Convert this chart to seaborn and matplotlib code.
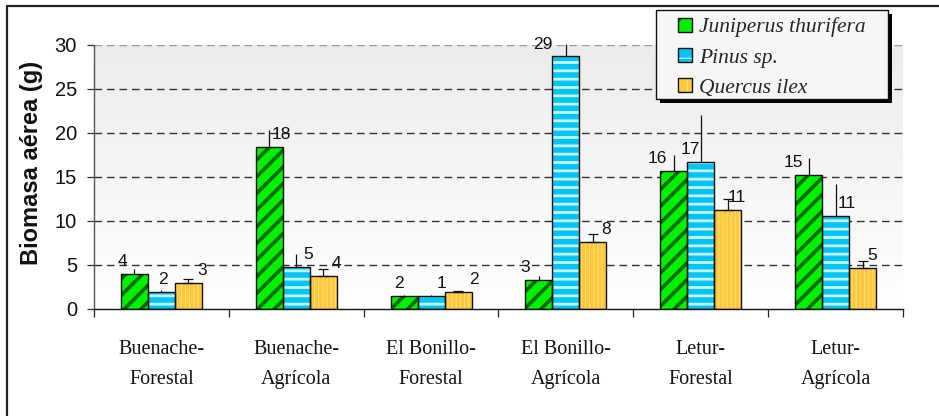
import numpy as np
import pandas as pd
import matplotlib
matplotlib.use("Agg")
import matplotlib.pyplot as plt
import seaborn as sns
from matplotlib.patches import Patch, Rectangle
from matplotlib.lines import Line2D
from matplotlib.colors import LinearSegmentedColormap

# ---- data -------------------------------------------------------------
sites = ["Buenache-\nForestal", "Buenache-\nAgrícola", "El Bonillo-\nForestal",
         "El Bonillo-\nAgrícola", "Letur-\nForestal", "Letur-\nAgrícola"]
species = ["Juniperus thurifera", "Pinus sp.", "Quercus ilex"]

juniperus = [3.95, 18.4, 1.5, 3.3, 15.7, 15.2]
pinus = [1.95, 4.8, 1.45, 28.7, 16.7, 10.55]
quercus = [3.0, 3.8, 1.95, 7.6, 11.3, 4.7]

err_juniperus = [0.55, 1.9, 0.1, 0.5, 1.8, 2.0]
err_pinus = [0.2, 1.4, 0.1, 1.4, 5.3, 3.6]
err_quercus = [0.45, 0.7, 0.15, 0.9, 1.25, 0.7]

yticks = [0, 5, 10, 15, 20, 25, 30]

# ---- styling ------------------------------------------------------------
fill_colors = ["#00f000", "#00c4f4", "#ffc83a"]
hatch_colors = ["#006a00", "#c6f4ff", "#ffe07a"]
hatches = ["//", "--", "||||"]
hatch_widths = [2.6, 2.0, 0.7]
cap_sizes = [0, 0, 3.3]
# horizontal shift of each value label, in bar widths
label_shift = [
    [-0.45, 0.45, -0.2, -0.5, -0.6, -0.55],
    [0.05, 0.45, 0.4, -0.85, -0.4, 0.4],
    [0.5, 0.5, 0.6, 0.5, 0.35, 0.35],
]

sns.set_theme(style="white")
plt.rcParams["font.family"] = ["Liberation Sans", "DejaVu Sans"]

values = [juniperus, pinus, quercus]
errors = [err_juniperus, err_pinus, err_quercus]

df = pd.DataFrame({
    "site": [s for _ in species for s in sites],
    "especie": [sp for sp in species for _ in sites],
    "biomasa": [v for vals in values for v in vals],
})

W, H = 939, 416
fig = plt.figure(figsize=(W / 100, H / 100), dpi=100)
fig.patch.set_facecolor("white")
ax = fig.add_axes([94 / W, 1 - 309 / H, (903 - 94) / W, (309 - 45) / H])

sns.barplot(data=df, x="site", y="biomasa", hue="especie", order=sites,
            hue_order=species, palette=fill_colors, errorbar=None,
            width=0.6, gap=0, legend=False, ax=ax, zorder=2)
bar_groups = list(ax.containers)

ax.set_xlim(-0.5, len(sites) - 0.5)
ax.set_ylim(0, 30)

# plot-area background: light grey fading to white
grad = LinearSegmentedColormap.from_list("bg", ["#ffffff", "#ececec"])
ax.imshow(np.linspace(0, 1, 256).reshape(-1, 1), extent=[-0.5, len(sites) - 0.5, 0, 30],
          origin="lower", aspect="auto", cmap=grad, zorder=0)

# dashed grid
for t in yticks[1:]:
    ax.axhline(t, color="#9a9a9a" if t == 30 else "#333333", lw=1.0,
               dashes=(5.5, 3.5), zorder=1)

# bars: hatched fill + black outline, error bars, value labels
for k, cont in enumerate(bar_groups):
    for j, p in enumerate(cont.patches):
        p.set_facecolor(fill_colors[k])
        p.set_edgecolor(hatch_colors[k])
        p.set_hatch(hatches[k])
        p.set_linewidth(0)
        try:
            p.set_hatch_linewidth(hatch_widths[k])
        except AttributeError:
            pass
        x0, w, h = p.get_x(), p.get_width(), p.get_height()
        ax.add_patch(Rectangle((x0, 0), w, h, fill=False, ec="#111111",
                               lw=1.0, zorder=3))
        xc = x0 + w / 2
        ax.errorbar([xc], [h], yerr=[[0], [errors[k][j]]], fmt="none",
                    ecolor="#111111", elinewidth=0.9, capsize=cap_sizes[k],
                    capthick=0.9, zorder=4, clip_on=False)
        ax.annotate(f"{values[k][j]:.0f}", (xc + label_shift[k][j] * w, h),
                    xytext=(0, 3.5), textcoords="offset points",
                    ha="center", va="bottom", fontsize=12.5, color="#111111",
                    zorder=5, annotation_clip=False)

# axes
for s in ["top", "right"]:
    ax.spines[s].set_visible(False)
ax.spines["left"].set_color("#555555")
ax.spines["left"].set_linewidth(1.0)
ax.spines["bottom"].set_color("#111111")
ax.spines["bottom"].set_linewidth(1.0)

ax.set_yticks(yticks)
ax.set_yticklabels([str(t) for t in yticks])
ax.tick_params(axis="y", which="major", left=True, direction="out", length=5.2,
               width=0.9, color="#333333", labelsize=14.5, pad=7, labelcolor="#111111")

ax.set_xticks(range(len(sites)))
ax.set_xticklabels(sites, fontfamily=["Liberation Serif", "DejaVu Serif"],
                   fontsize=14.5, linespacing=1.75, color="#111111")
ax.tick_params(axis="x", which="major", bottom=False, length=0, pad=22.5)
ax.set_xticks(np.arange(-0.5, len(sites), 1.0), minor=True)
ax.tick_params(axis="x", which="minor", bottom=True, direction="out",
               length=6, width=0.9, color="#222222")
ax.set_xlabel("")
ax.set_ylabel("")

fig.text(32 / W, 1 - 163 / H, "Biomasa aérea (g)", rotation=90, ha="center",
         va="center", fontsize=17, fontweight="bold", color="#111111")

# legend box with a solid drop shadow
lx0, ly0, lx1, ly1 = 656, 10, 888, 99
fig.add_artist(Rectangle(((lx0 + 4) / W, 1 - (ly1 + 4) / H), (lx1 - lx0) / W,
                         (ly1 - ly0) / H, transform=fig.transFigure,
                         facecolor="black", edgecolor="black", lw=0, zorder=8))
fig.add_artist(Rectangle((lx0 / W, 1 - ly1 / H), (lx1 - lx0) / W, (ly1 - ly0) / H,
                         transform=fig.transFigure, facecolor="#f6f6f6",
                         edgecolor="#111111", lw=1.0, zorder=9))

handles = []
for k in range(3):
    hp = Patch(facecolor=fill_colors[k], edgecolor=hatch_colors[k],
               hatch=hatches[k][:max(1, len(hatches[k]) // 2)], lw=0)
    op = Patch(facecolor="none", edgecolor="#111111", lw=1.0)
    handles.append((hp, op))
leg = fig.legend(handles, species, loc="upper left",
                 bbox_to_anchor=(672 / W, 1 - 11 / H), borderaxespad=0,
                 prop={"family": ["Liberation Serif", "DejaVu Serif"],
                       "style": "italic", "size": 15.5},
                 handlelength=0.62, handleheight=0.62, handletextpad=0.35,
                 labelspacing=0.5, borderpad=0.3, frameon=False)
leg.set_zorder(10)

# outer frame of the figure
fig.add_artist(Line2D([7 / W, 7 / W], [0, 1 - 6 / H], transform=fig.transFigure,
                      color="#222222", lw=1.6))
fig.add_artist(Line2D([7 / W, 1], [1 - 6 / H, 1 - 6 / H], transform=fig.transFigure,
                      color="#222222", lw=1.6))

fig.savefig("out.png", dpi=100, facecolor="white")
